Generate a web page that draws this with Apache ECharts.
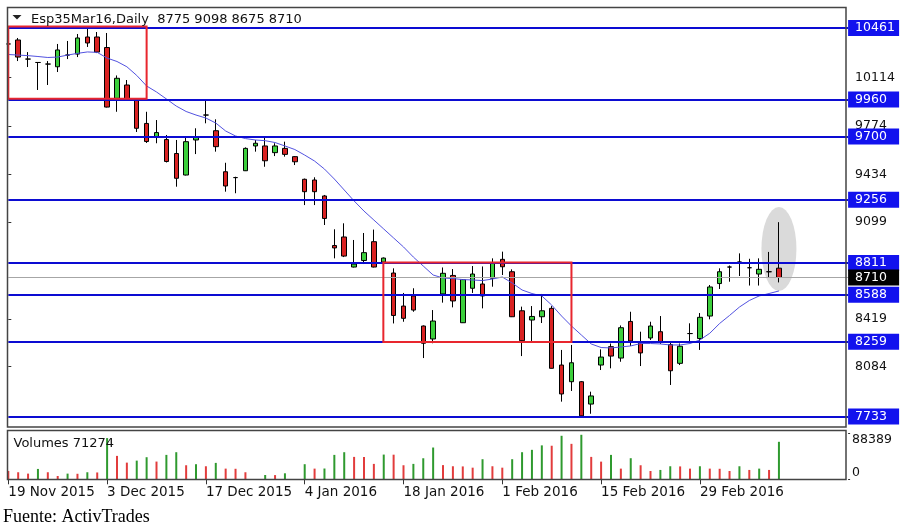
<!DOCTYPE html>
<html><head><meta charset="utf-8">
<script src="https://cdn.jsdelivr.net/npm/echarts@6/dist/echarts.min.js"></script>
<style>html,body{margin:0;padding:0;background:#fff}#c{width:905px;height:531px}</style>
</head><body><div id="c"></div>
<script>
const dates = ['19 Nov 2015','20 Nov 2015','23 Nov 2015','24 Nov 2015','25 Nov 2015','26 Nov 2015','27 Nov 2015','30 Nov 2015',
'1 Dec 2015','2 Dec 2015','3 Dec 2015','4 Dec 2015','7 Dec 2015','8 Dec 2015','9 Dec 2015','10 Dec 2015','11 Dec 2015',
'14 Dec 2015','15 Dec 2015','16 Dec 2015','17 Dec 2015','18 Dec 2015','21 Dec 2015','22 Dec 2015','23 Dec 2015','24 Dec 2015',
'28 Dec 2015','29 Dec 2015','30 Dec 2015','31 Dec 2015','4 Jan 2016','5 Jan 2016','6 Jan 2016','7 Jan 2016','8 Jan 2016',
'11 Jan 2016','12 Jan 2016','13 Jan 2016','14 Jan 2016','15 Jan 2016','18 Jan 2016','19 Jan 2016','20 Jan 2016','21 Jan 2016',
'22 Jan 2016','25 Jan 2016','26 Jan 2016','27 Jan 2016','28 Jan 2016','29 Jan 2016','1 Feb 2016','2 Feb 2016','3 Feb 2016',
'4 Feb 2016','5 Feb 2016','8 Feb 2016','9 Feb 2016','10 Feb 2016','11 Feb 2016','12 Feb 2016','15 Feb 2016','16 Feb 2016',
'17 Feb 2016','18 Feb 2016','19 Feb 2016','22 Feb 2016','23 Feb 2016','24 Feb 2016','25 Feb 2016','26 Feb 2016','29 Feb 2016',
'1 Mar 2016','2 Mar 2016','3 Mar 2016','4 Mar 2016','7 Mar 2016','8 Mar 2016','9 Mar 2016','10 Mar 2016'];

const opens = [10349,10377,10243,10219,10208,10189,10271,10278,10398,10398,
10324,9967,10061,9956,9791,9696,9678,9580,9429,9675,
9850,9740,9452,9411,9459,9633,9633,9586,9616,9558,
9399,9394,9282,8934,8994,8783,8829,8961,8818,8741,
8509,8580,8369,8278,8594,8724,8392,8634,8664,8704,
8837,8750,8476,8411,8434,8493,8095,7978,7978,7821,
8095,8224,8144,8401,8250,8285,8329,8239,8107,8316,
8281,8439,8667,8783,8818,8778,8734,8750,8775];

const closes = [10349,10257,10243,10219,10208,10307,10271,10391,10356,10292,
9906,10108,9966,9757,9664,9727,9524,9406,9663,9696,
9850,9628,9352,9411,9616,9652,9529,9633,9574,9522,
9312,9312,9124,8917,8860,8804,8884,8783,8846,8443,
8423,8481,8248,8404,8739,8545,8695,8734,8580,8809,
8785,8434,8266,8436,8476,8072,7892,8111,7738,7878,
8151,8158,8357,8264,8180,8369,8259,8055,8227,8316,
8430,8643,8750,8783,8818,8778,8767,8750,8710];

const lows = [10321,10229,10187,10026,10061,10152,10243,10257,10328,10285,
9903,9873,9959,9731,9654,9652,9517,9347,9426,9576,
9792,9593,9312,9301,9457,9593,9487,9562,9558,9499,
9218,9218,9078,8844,8853,8780,8804,8780,8815,8387,
8399,8469,8144,8248,8533,8500,8390,8601,8493,8645,
8727,8432,8158,8264,8390,8071,7838,7913,7733,7753,
8060,8072,8118,8229,8088,8271,8243,7955,8095,8253,
8201,8416,8629,8680,8720,8653,8653,8713,8675];

const highs = [10377,10391,10292,10222,10229,10349,10370,10419,10454,10433,
10426,10128,10096,9963,9873,9815,9710,9675,9698,9757,
9956,9820,9515,9417,9623,9675,9698,9652,9663,9562,
9404,9413,9289,9048,9090,8973,9022,9046,8850,8774,
8601,8634,8373,8481,8780,8769,8699,8790,8787,8844,
8891,8767,8505,8509,8594,8509,8201,8236,7983,7908,
8205,8246,8373,8469,8329,8399,8439,8257,8246,8388,
8460,8657,8774,8794,8879,8841,8844,8889,9098];

const movingAvg = [10275,10271,10267,10261,10254,10257,10271,10283,10293,10290,
10250,10226,10189,10128,10054,10012,9963,9913,9875,9850,
9829,9794,9738,9703,9685,9675,9670,9657,9633,9608,
9569,9527,9471,9401,9324,9247,9176,9113,9050,8987,
8924,8853,8790,8727,8706,8702,8695,8692,8688,8699,
8713,8671,8622,8597,8580,8516,8439,8369,8306,8243,
8218,8215,8222,8229,8246,8246,8243,8236,8236,8246,
8271,8318,8387,8443,8502,8548,8580,8597,8615];

const volumes = [15900,13400,10800,19700,13400,6300,10800,10500,13400,13000,
78300,44500,31700,35500,42000,33700,46400,51500,26700,28700,
24800,31200,20300,20000,13400,500,8200,8000,11400,500,
28700,20300,20500,46400,51500,42600,42400,29300,47000,46800,
26700,29300,40000,60400,27000,24800,24500,22100,38200,24800,
22100,38200,51500,56000,64500,63800,82700,67400,84600,42600,
33600,46400,20300,40100,26700,15800,17800,24800,24500,20300,
24800,20300,20000,15800,24800,17800,20300,17800,71274];

const levels = [10461, 9960, 9700, 9256, 8811, 8588, 8259, 7733];
const priceTicks = [10114, 9774, 9434, 9099, 8419, 8084];
const priceRange = [7653, 10605];
const volTicks = [0, 88389];
const boxesX = [[-0.08, 14.0], [37.96, 57.0]];
const boxesY = [[9965, 10472], [8257, 8815]];
const highlight = [78, 8910];
const symbolName = 'Esp35Mar16,Daily';
const source = 'Fuente: ActivTrades';

const PAD = 7;
const categories = dates.concat(new Array(PAD).fill(''));
const N = categories.length;
const last = dates.length - 1;
const isLabelIdx = (i) => i % 10 === 0 && i <= last;

const GREEN = '#3ccf3c', RED = '#d92222';
const VGREEN = '#2f9a2f', VRED = '#e23c3c';
const FONT = 'DejaVu Sans';
const plain = (v) => String(Math.round(v));

const chart = echarts.init(document.getElementById('c'), null, {renderer: 'canvas'});
const option = {
  animation: false,
  backgroundColor: '#ffffff',
  textStyle: {fontFamily: FONT},
  grid: [
    {left: 8.3, right: 56.9, top: 7.5, height: 420.5},
    {left: 8.3, right: 56.9, top: 432.8, height: 46.5}
  ],
  xAxis: [
    {type: 'category', gridIndex: 0, data: categories, boundaryGap: false,
     axisLine: {show: false}, axisTick: {show: false}, axisLabel: {show: false}, splitLine: {show: false}},
    {type: 'category', gridIndex: 1, data: categories, boundaryGap: false,
     axisLine: {show: false},
     axisTick: {show: true, interval: (i) => isLabelIdx(i), length: 5, lineStyle: {color: '#333', width: 1}},
     axisLabel: {interval: (i) => isLabelIdx(i), align: 'left', margin: 6, fontFamily: FONT, fontSize: 13.5, color: '#111'},
     splitLine: {show: false}},
    {type: 'value', gridIndex: 0, min: 0, max: N - 1, show: false}
  ],
  yAxis: [
    {type: 'value', gridIndex: 0, position: 'right', min: priceRange[0], max: priceRange[1], scale: true,
     splitLine: {show: false}, axisLine: {show: false},
     axisTick: {show: true, customValues: priceTicks, length: 3, lineStyle: {color: '#333'}},
     axisLabel: {customValues: priceTicks, formatter: plain, margin: 7, fontFamily: FONT, fontSize: 12.5, color: '#111'}},
    {type: 'value', gridIndex: 1, position: 'right', min: volTicks[0], max: volTicks[1],
     splitLine: {show: false}, axisLine: {show: false},
     axisTick: {show: true, customValues: volTicks, length: 2, lineStyle: {color: '#333'}},
     axisLabel: {customValues: volTicks, formatter: plain, margin: 4, fontFamily: FONT, fontSize: 12.5, color: '#111',
       verticalAlignMinLabel: 'bottom', verticalAlignMaxLabel: 'top'}}
  ],
  series: [
    {
      type: 'line', name: 'ann', xAxisIndex: 2, yAxisIndex: 0, data: [], silent: true,
      markArea: {
        silent: true, z: 6,
        itemStyle: {color: 'rgba(0,0,0,0)', borderColor: '#e8262e', borderWidth: 2},
        data: boxesX.map((bx, k) => [{coord: [bx[0], boxesY[k][1]]}, {coord: [bx[1], boxesY[k][0]]}])
      },
      markPoint: {
        silent: true, z: 1, symbol: 'circle', symbolSize: [35, 84],
        itemStyle: {color: '#dadada'}, label: {show: false},
        data: [{coord: highlight}]
      }
    },
    {
      type: 'candlestick', name: 'price', xAxisIndex: 0, yAxisIndex: 0, z: 3,
      barWidth: 5,
      data: dates.map((d, i) => [opens[i], closes[i], lows[i], highs[i]]),
      itemStyle: {color: GREEN, color0: RED, borderColor: '#000', borderColor0: '#000', borderColorDoji: '#000', borderWidth: 1}
    },
    {
      type: 'line', name: 'MA', xAxisIndex: 0, yAxisIndex: 0, z: 4,
      data: movingAvg, symbol: 'none', showSymbol: false,
      lineStyle: {color: '#5252e0', width: 1},
      markLine: {
        silent: true, symbol: 'none', z: 5,
        label: {show: true, position: 'end', distance: 0, formatter: (p) => plain(p.value),
          color: '#fff', backgroundColor: '#1212ee', padding: [1, 4, 1, 7], width: 40, align: 'left',
          fontFamily: FONT, fontSize: 12.5, lineHeight: 14},
        data: levels.map(v => ({yAxis: v, lineStyle: {color: '#0c0cd2', width: 2, type: 'solid'}}))
          .concat([{yAxis: closes[last], lineStyle: {color: '#a6a6a6', width: 1, type: 'solid'},
                    label: {backgroundColor: '#000'}}])
      }
    },
    {
      type: 'bar', name: 'vol', xAxisIndex: 1, yAxisIndex: 1, barWidth: 2,
      data: volumes,
      itemStyle: {color: (p) => (p.dataIndex > 0 && volumes[p.dataIndex] > volumes[p.dataIndex - 1]) ? VGREEN : VRED}
    }
  ],
  graphic: [
    {type: 'rect', z: 10, silent: true, shape: {x: 7.5, y: 7.5, width: 838.5, height: 419.5},
     style: {fill: 'none', stroke: '#444', lineWidth: 1.5}},
    {type: 'rect', z: 10, silent: true, shape: {x: 7.5, y: 430.5, width: 838.5, height: 49},
     style: {fill: 'none', stroke: '#444', lineWidth: 1.5}},
    {type: 'polygon', z: 10, silent: true, shape: {points: [[12.5, 15], [21.5, 15], [17, 19.5]]}, style: {fill: '#222'}},
    {type: 'text', z: 10, silent: true, x: 31, y: 19.5,
     style: {text: symbolName + '  ' + [opens[last], highs[last], lows[last], closes[last]].join(' '),
       fontFamily: FONT, fontSize: 13, fill: '#111', verticalAlign: 'middle'}},
    {type: 'text', z: 10, silent: true, x: 13.5, y: 443.5,
     style: {text: 'Volumes ' + volumes[last], fontFamily: FONT, fontSize: 13, fill: '#111', verticalAlign: 'middle'}},
    {type: 'text', z: 10, silent: true, x: 3, y: 517,
     style: {text: source, fontFamily: 'Liberation Serif', fontSize: 18, fill: '#000', verticalAlign: 'middle'}}
  ]
};
chart.setOption(option);
</script>
</body></html>
